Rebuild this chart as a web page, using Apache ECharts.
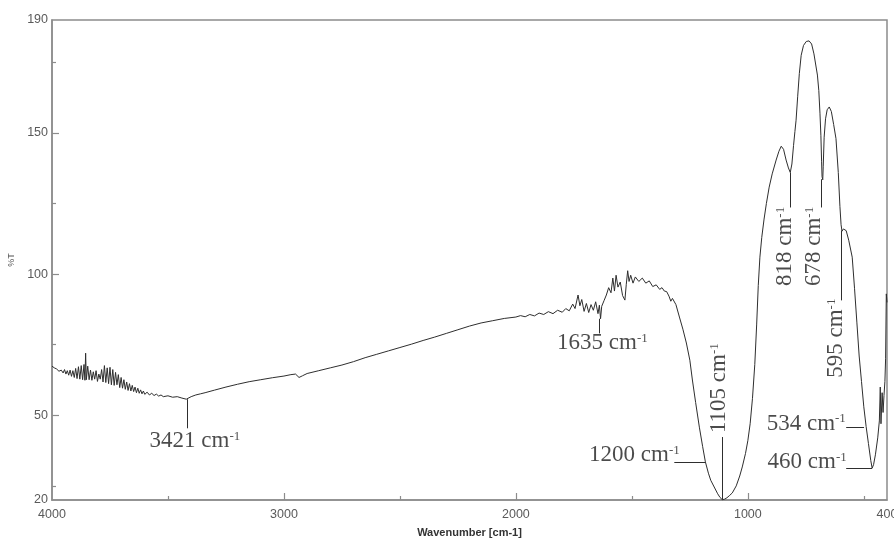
<!DOCTYPE html>
<html>
<head>
<meta charset="utf-8">
<script src="https://cdn.jsdelivr.net/npm/echarts@6/dist/echarts.min.js"></script>
<style>
html,body{margin:0;padding:0;background:#fff;}
#chart{width:894px;height:538px;}
</style>
</head>
<body>
<div id="chart"></div>
<script>
// Spectrum segments: [wavenumber cm-1, %T]
const hydroxylRegion = [[4000,67.4],[3990,66.8],[3980,66.4],[3970,65.6],[3960,66.0],[3952,65.0],[3946,66.2],[3940,64.6],[3934,65.8],[3928,64.2],[3922,66.0],[3916,63.8],[3910,65.8],[3904,63.4],[3898,66.6],[3892,63.0],[3886,67.2],[3880,62.8],[3874,67.6],[3868,62.6],[3862,68.0],[3858,62.4],[3855,72.0],[3852,62.6],[3846,67.4],[3840,62.6],[3834,66.0],[3828,62.4],[3822,65.4],[3816,62.8],[3810,65.8],[3804,62.0],[3798,64.6],[3792,62.8],[3786,66.2],[3780,61.8],[3774,67.6],[3768,61.6],[3762,66.8],[3756,61.2],[3750,67.0],[3744,60.8],[3738,66.2],[3732,60.6],[3726,65.2],[3720,60.8],[3714,64.4],[3708,59.8],[3702,63.4],[3696,59.6],[3690,62.6],[3684,59.2],[3678,61.8],[3672,58.8],[3666,61.2],[3660,58.6],[3654,60.6],[3648,58.4],[3642,60.0],[3636,58.0],[3630,59.6],[3624,57.8],[3618,59.0],[3612,57.6],[3606,58.6],[3600,57.4],[3590,58.2],[3580,57.2],[3570,57.8],[3560,57.0],[3550,57.5],[3540,56.8],[3530,57.2],[3520,56.6],[3500,56.9],[3480,56.4],[3460,56.6],[3440,56.1],[3421,55.7]];
const baselineRegion = [[3400,56.6],[3380,57.2],[3360,57.6],[3340,58.0],[3300,58.9],[3250,60.0],[3200,61.0],[3150,61.9],[3100,62.6],[3050,63.3],[3000,63.9],[2970,64.4],[2950,64.6],[2935,63.4],[2920,64.0],[2900,64.8],[2850,65.8],[2800,66.8],[2750,67.8],[2700,69.0],[2650,70.4],[2600,71.6],[2550,72.8],[2500,74.0],[2450,75.2],[2400,76.5],[2350,77.7],[2300,79.0],[2250,80.3],[2200,81.6],[2150,82.7],[2100,83.5],[2050,84.3],[2000,84.8]];
const waterRegion = [[1980,85.3],[1960,84.9],[1940,85.7],[1920,85.2],[1900,86.2],[1880,85.7],[1860,86.7],[1840,86.0],[1820,87.2],[1800,86.5],[1785,87.8],[1770,87.0],[1755,89.4],[1745,87.8],[1732,92.6],[1724,88.8],[1716,91.0],[1706,86.8],[1696,89.6],[1686,86.4],[1676,89.2],[1666,87.2],[1656,90.2],[1646,86.0],[1640,89.0],[1635,84.2],[1630,88.6],[1620,90.6],[1610,92.6],[1600,95.2],[1590,93.4],[1582,98.6],[1575,94.0],[1568,99.6],[1560,95.4],[1550,97.2],[1540,92.4],[1530,90.8],[1524,96.4],[1518,101.2],[1512,97.4],[1505,99.6],[1495,96.8],[1485,99.0],[1470,97.4],[1455,98.6],[1440,96.8],[1425,97.6],[1410,95.6],[1395,96.2],[1380,94.6],[1370,95.2],[1360,94.0],[1350,93.8],[1340,92.2],[1332,90.4],[1325,91.4],[1310,89.2]];
const fingerprintRegion = [[1295,84.8],[1280,80.5],[1265,75.6],[1250,69.5],[1239,62.5],[1225,54.5],[1209,45.8],[1195,39.0],[1183,33.5],[1170,29.5],[1160,27.0],[1145,24.6],[1130,22.2],[1120,20.9],[1110,20.1],[1100,20.3],[1090,20.8],[1080,21.5],[1067,22.5],[1050,25.0],[1035,28.5],[1024,31.7],[1010,36.5],[1000,41.0],[990,47.0],[980,56.0],[970,68.0],[962,82.0],[955,96.0],[948,106.0],[940,113.0],[930,119.5],[920,125.0],[908,130.8],[895,135.5],[878,140.4],[866,143.5],[856,145.3],[846,144.2],[835,140.4],[825,137.6],[817,136.0],[810,139.0],[803,145.5],[797,150.5],[792,154.5],[785,163.0],[778,171.0],[770,177.5],[760,181.0],[748,182.4],[736,182.6],[725,181.5],[715,178.0],[705,173.0],[700,170.5],[694,165.0],[689,157.0],[685,149.0],[682,140.0],[680,134.5],[677,133.4],[675,138.0],[671,148.5],[665,155.0],[658,158.2],[649,159.2],[640,157.6],[630,153.0],[620,148.0],[610,136.0],[603,124.0],[598,117.5],[594,115.2],[588,116.0],[582,116.2],[576,115.4],[565,112.0],[550,106.0],[540,95.0],[530,83.0],[520,71.0],[510,62.0],[500,53.0],[490,46.0],[480,40.0],[470,34.0],[464,31.3],[458,32.5],[450,36.0],[440,42.0],[433,48.0],[429,60.0],[426,47.0],[421,58.0],[417,51.0],[413,57.0],[409,62.0],[406,70.0],[403,93.0],[400,90.0]];

// Axis ticks / labels
const xLabelValues = [4000,3000,2000,1000,400];
const xMajorTicks = [3000,2000,1000];
const xMinorTicks = [3500,2500,1500,500];
const yLabelValues = [20,50,100,150,190];
const yMajorTicks = [50,100,150];
const yMinorTicks = [25,75,125,175];

// Peak annotations: text, label anchor [wn, %T], rotation, leader line from -> to
const annoNames = ['3421','1635','1200','1105','818','678','595','534','460'];
const annoLabelPos = [[3384,40.8],[1627,75.5],[1489,35.9],[1123,59.6],[839,109.8],[714,109.8],[619,77.3],[748,46.9],[744,33.4]];
const annoRotate = [0,0,0,90,90,90,90,0,0];
const annoLineFrom = [[3419,55.7],[1640,84.2],[1317,33.4],[1110,20.1],[817,136.0],[683,133.6],[598,115.4],[576,45.8],[576,31.3]];
const annoLineTo = [[3419,45.4],[1640,79.0],[1183,33.4],[1110,42.3],[817,123.6],[683,123.6],[598,90.7],[499,45.8],[464,31.3]];

const spectrum = [].concat(hydroxylRegion, baselineRegion, waterRegion, fingerprintRegion);
const axisGray = '#8c8c8c';
const labelGray = '#5a5a5a';
const plain = v => String(v);

const chart = echarts.init(document.getElementById('chart'), null, {renderer: 'canvas'});
chart.setOption({
  animation: false,
  backgroundColor: '#fff',
  grid: {left: 52, right: 7, top: 20, bottom: 38, outerBoundsMode: 'none', containLabel: false,
         show: true, borderColor: axisGray, borderWidth: 1.5},
  xAxis: [{
    type: 'value', inverse: true, min: 400, max: 4000,
    name: 'Wavenumber [cm-1]', nameLocation: 'middle', nameGap: 27,
    nameTextStyle: {fontFamily: 'Liberation Sans', fontWeight: 'bold', fontSize: 11, color: '#333'},
    axisLine: {lineStyle: {color: axisGray, width: 1.5}},
    axisTick: {inside: true, length: 7, customValues: xMajorTicks, lineStyle: {color: axisGray, width: 1.2}},
    axisLabel: {customValues: xLabelValues, formatter: plain, margin: 8, color: labelGray, fontSize: 12.5, fontFamily: 'Liberation Sans'},
    splitLine: {show: false}
  }, {
    type: 'value', inverse: true, min: 400, max: 4000, position: 'bottom', offset: -4,
    axisLine: {show: false},
    axisTick: {inside: false, length: 4, customValues: xMinorTicks, lineStyle: {color: axisGray, width: 1.2}},
    axisLabel: {show: false},
    splitLine: {show: false}
  }],
  yAxis: [{
    type: 'value', min: 20, max: 190,
    name: '%T', nameLocation: 'middle', nameGap: 30, nameRotate: 90,
    nameTextStyle: {fontFamily: 'Liberation Sans', fontSize: 9, color: '#555'},
    axisLine: {show: true, lineStyle: {color: axisGray, width: 1.5}},
    axisTick: {show: true, inside: true, length: 7, customValues: yMajorTicks, lineStyle: {color: axisGray, width: 1.2}},
    axisLabel: {customValues: yLabelValues, formatter: plain, margin: 4, color: labelGray, fontSize: 12.5, fontFamily: 'Liberation Sans'},
    splitLine: {show: false}
  }, {
    type: 'value', min: 20, max: 190, position: 'left', offset: -4,
    axisLine: {show: false},
    axisTick: {show: true, inside: false, length: 4, customValues: yMinorTicks, lineStyle: {color: axisGray, width: 1.2}},
    axisLabel: {show: false},
    splitLine: {show: false}
  }],
  series: [{
    type: 'line', name: 'FTIR', data: spectrum, showSymbol: false, symbol: 'none',
    xAxisIndex: 0, yAxisIndex: 0,
    lineStyle: {color: '#2e2e2e', width: 1},
    markLine: {
      silent: true, symbol: 'none', label: {show: false},
      lineStyle: {color: '#2e2e2e', width: 1, type: 'solid'},
      data: annoLineFrom.map((p, i) => [{coord: p}, {coord: annoLineTo[i]}])
    }
  }, {
    type: 'scatter', name: 'labels', xAxisIndex: 0, yAxisIndex: 0, silent: true,
    symbolSize: 1, itemStyle: {color: 'rgba(0,0,0,0)'},
    data: annoNames.map((n, i) => ({
      value: annoLabelPos[i],
      label: {
        show: true, position: 'inside', rotate: annoRotate[i],
        align: 'center', verticalAlign: 'middle',
        formatter: '{n|' + n + ' cm}{s|-1}',
        rich: {
          n: {fontFamily: 'Liberation Serif', fontSize: 23, color: '#1e1e1e'},
          s: {fontFamily: 'Liberation Serif', fontSize: 13, color: '#1e1e1e', verticalAlign: 'top'}
        }
      }
    }))
  }]
});
</script>
</body>
</html>
